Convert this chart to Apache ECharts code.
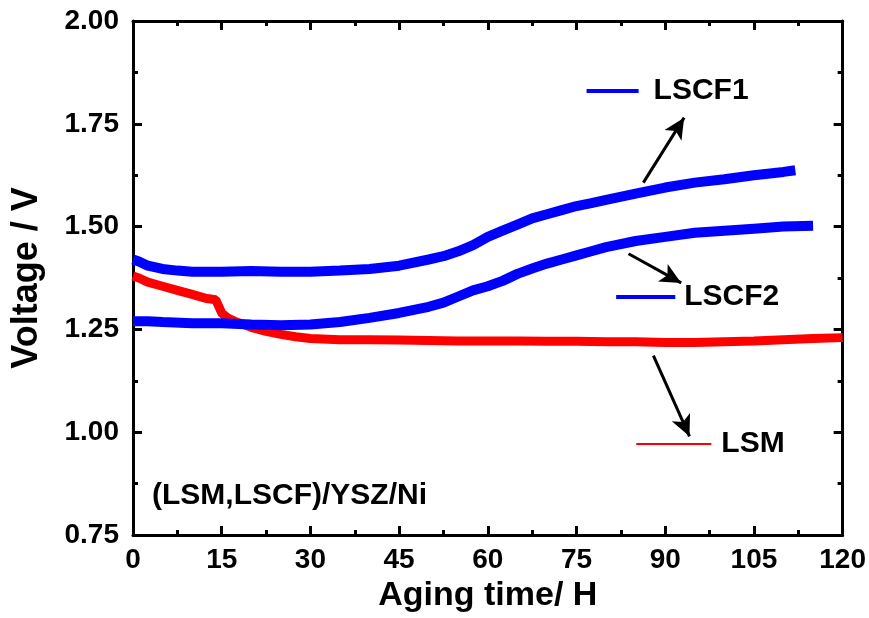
<!DOCTYPE html>
<html>
<head>
<meta charset="utf-8">
<script src="https://cdn.jsdelivr.net/npm/echarts@6/dist/echarts.min.js"></script>
<style>html,body{margin:0;padding:0;background:#fff}#c{width:869px;height:618px}</style>
</head>
<body>
<div id="c"></div>
<script>
// ---- data ----
const lsmT = [0, 1, 2.5, 5, 7.5, 10, 12.5, 14, 15, 16, 17.5, 20, 22.5, 25, 27.5, 30, 35, 40, 45, 50, 55, 60, 65, 70, 75, 80, 85, 90, 95, 100, 105, 110, 115, 120];
const lsmV = [1.38, 1.375, 1.365, 1.355, 1.345, 1.335, 1.325, 1.322, 1.29, 1.278, 1.268, 1.255, 1.245, 1.238, 1.232, 1.228, 1.225, 1.225, 1.224, 1.223, 1.222, 1.222, 1.222, 1.221, 1.221, 1.22, 1.22, 1.218, 1.218, 1.22, 1.222, 1.225, 1.228, 1.23];

const lscf2T = [0, 2.5, 5, 10, 15, 20, 25, 30, 35, 40, 45, 50, 52.5, 55, 57.5, 60, 62.5, 65, 67.5, 70, 72.5, 75, 77.5, 80, 85, 90, 95, 100, 105, 110, 115];
const lscf2V = [1.27, 1.27, 1.268, 1.265, 1.265, 1.262, 1.26, 1.262, 1.268, 1.278, 1.29, 1.305, 1.315, 1.33, 1.345, 1.355, 1.368, 1.385, 1.398, 1.41, 1.42, 1.43, 1.44, 1.45, 1.465, 1.475, 1.485, 1.49, 1.495, 1.5, 1.502];

const lscf1T = [0, 1, 2.5, 5, 7.5, 10, 15, 20, 25, 30, 35, 40, 45, 50, 52.5, 55, 57.5, 60, 62.5, 65, 67.5, 70, 72.5, 75, 77.5, 80, 85, 90, 95, 100, 105, 110, 112];
const lscf1V = [1.42, 1.415, 1.405, 1.397, 1.393, 1.39, 1.39, 1.392, 1.39, 1.39, 1.393, 1.397, 1.405, 1.42, 1.428, 1.44, 1.455, 1.475, 1.49, 1.505, 1.52, 1.53, 1.54, 1.55, 1.557, 1.565, 1.58, 1.595, 1.607, 1.615, 1.625, 1.633, 1.637];

const xTicks = [0, 15, 30, 45, 60, 75, 90, 105, 120];
const yTicks = [0.75, 1.00, 1.25, 1.50, 1.75, 2.00];

// annotation anchors (data units)
const arrows = [
  [[86.3, 1.607], [93.2, 1.765]],   // LSCF1
  [[83.8, 1.434], [92.7, 1.363]],   // LSCF2
  [[88.0, 1.186], [94.1, 0.990]]    // LSM
];
const keys = [
  {name: 'LSCF1', from: [76.7, 1.830], to: [85.5, 1.830], color: '#0000FF', w: 4, gap: 15},
  {name: 'LSCF2', from: [81.7, 1.330], to: [91.7, 1.330], color: '#0000FF', w: 4, gap: 9},
  {name: 'LSM',   from: [85.1, 0.972], to: [97.8, 0.972], color: '#FF0000', w: 2, gap: 10}
];
const note = '(LSM,LSCF)/YSZ/Ni';

const FONT = 'Liberation Sans, Arial, sans-serif';
const zip = (t, v) => t.map((x, i) => [x, v[i]]);

const chart = echarts.init(document.getElementById('c'));

const axisCommon = {
  axisLine: {show: true, onZero: false, lineStyle: {color: '#000', width: 3}},
  axisTick: {show: true, inside: true, length: 9, lineStyle: {color: '#000', width: 3}},
  minorTick: {show: true, splitNumber: 2, length: 5, lineStyle: {color: '#000', width: 3}},
  splitLine: {show: false}
};

const arrowLines = arrows.map(a => [{coord: a[0]}, {coord: a[1]}]);
const keyLines = keys.map(k => [
  {coord: k.from, lineStyle: {color: k.color, width: k.w, type: 'solid'},
   label: {show: true, position: 'end', formatter: k.name, color: '#000', fontSize: 30, fontWeight: 'bold', fontFamily: FONT, distance: k.gap}},
  {coord: k.to}
]);

chart.setOption({
  animation: false,
  grid: {left: 133, right: 26, top: 21, bottom: 77, containLabel: false},
  xAxis: [
    Object.assign({
      type: 'value', position: 'bottom', min: 0, max: 120, interval: 15,
      name: 'Aging time/ H', nameLocation: 'middle', nameGap: 44,
      nameTextStyle: {fontSize: 34, fontWeight: 'bold', color: '#000', fontFamily: FONT},
      axisLabel: {fontSize: 28, fontWeight: 'bold', color: '#000', fontFamily: FONT, margin: 11,
        formatter: v => xTicks.includes(v) ? String(v) : ''}
    }, axisCommon),
    Object.assign({
      type: 'value', position: 'top', min: 0, max: 120, interval: 15,
      axisLabel: {show: false}
    }, axisCommon)
  ],
  yAxis: [
    Object.assign({
      type: 'value', position: 'left', min: 0.75, max: 2.0, interval: 0.25,
      name: 'Voltage / V', nameLocation: 'middle', nameGap: 88,
      nameTextStyle: {fontSize: 36, fontWeight: 'bold', color: '#000', fontFamily: FONT},
      axisLabel: {fontSize: 28, fontWeight: 'bold', color: '#000', fontFamily: FONT, margin: 14,
        formatter: v => yTicks.some(t => Math.abs(t - v) < 1e-9) ? v.toFixed(2) : ''}
    }, axisCommon),
    Object.assign({
      type: 'value', position: 'right', min: 0.75, max: 2.0, interval: 0.25,
      axisLabel: {show: false}
    }, axisCommon)
  ],
  graphic: [{
    type: 'text', left: 152, top: 481,
    style: {text: note, fill: '#000', font: 'bold 30px ' + FONT}
  }],
  series: [
    {
      name: 'LSM', type: 'line', data: zip(lsmT, lsmV), showSymbol: false,
      lineStyle: {color: '#FF0000', width: 9}, itemStyle: {color: '#FF0000'}, z: 2,
      markLine: {
        silent: true, symbol: ['none', 'arrow'], symbolSize: [15, 21],
        lineStyle: {color: '#000', width: 3, type: 'solid'},
        label: {show: false},
        data: arrowLines
      }
    },
    {
      name: 'LSCF2', type: 'line', data: zip(lscf2T, lscf2V), showSymbol: false,
      lineStyle: {color: '#0000FF', width: 10}, itemStyle: {color: '#0000FF'}, z: 3,
      markLine: {
        silent: true, symbol: ['none', 'none'],
        lineStyle: {type: 'solid'},
        data: keyLines
      }
    },
    {
      name: 'LSCF1', type: 'line', data: zip(lscf1T, lscf1V), showSymbol: false,
      lineStyle: {color: '#0000FF', width: 10}, itemStyle: {color: '#0000FF'}, z: 4
    }
  ]
});
</script>
</body>
</html>
